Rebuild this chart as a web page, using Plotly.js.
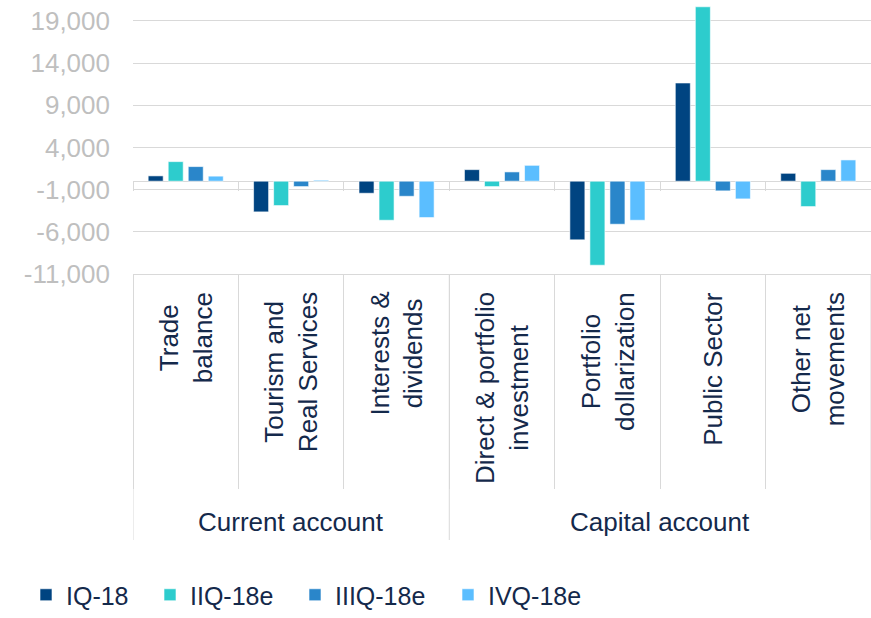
<!DOCTYPE html>
<html><head><meta charset="utf-8">
<script src="https://cdn.plot.ly/plotly-3.0.1.min.js"></script>
<style>html,body{margin:0;padding:0;background:#fff;}#chart{width:871px;height:618px;}</style>
</head><body><div id="chart"></div>
<script>
const groups = ["Current account","Current account","Current account","Capital account","Capital account","Capital account","Capital account"];
const categories = ["Trade<br>balance","Tourism and<br>Real Services","Interests &<br>dividends","Direct & portfolio<br>investment","Portfolio<br>dollarization","Public Sector","Other net<br>movements"];
const seriesNames = ["IQ-18","IIQ-18e","IIIQ-18e","IVQ-18e"];
const IQ18 = [630, -3640, -1430, 1370, -6950, 11640, 935];
const IIQ18e = [2320, -2890, -4630, -640, -9960, 20670, -3010];
const IIIQ18e = [1730, -640, -1790, 1100, -5100, -1150, 1370];
const IVQ18e = [600, 120, -4310, 1880, -4630, -2100, 2520];
const tickVals = [-11000, -6000, -1000, 4000, 9000, 14000, 19000];
const tickText = ["-11,000","-6,000","-1,000","4,000","9,000","14,000","19,000"];
const colors = ["#004481","#2DCCCD","#2A86CA","#5BBEFF"];
const values = [IQ18, IIQ18e, IIIQ18e, IVQ18e];

const TXT = '#14294b', GRID = '#d9d9d9';
const legendNames = ['legend','legend2','legend3','legend4'];
const legendX = [26, 150, 295, 448];

const traces = values.map((v,i)=>({
  type:'bar', name:seriesNames[i], x:categories, y:v, legend:legendNames[i],
  marker:{color:colors[i], line:{color:'rgba(255,255,255,0.6)', width:1}},
  hoverinfo:'skip'
}));
// helper trace so the zero-level category tick marks can be drawn
traces.push({type:'scatter', mode:'none', x:categories, y:categories.map(()=>null), xaxis:'x2', showlegend:false, hoverinfo:'skip'});

const annotations = [];
categories.forEach(c=>{
  annotations.push({xref:'x', yref:'paper', x:c, y:0, yshift:-16, text:c, textangle:-90,
    showarrow:false, xanchor:'center', yanchor:'top', align:'center', font:{size:26, color:TXT}});
});
// group labels and dividers derived from groups array
const shapes = [];
const uniq = [...new Set(groups)];
let start = 0;
shapes.push({type:'line', xref:'x', yref:'paper', x0:-0.5, x1:-0.5, y0:0, y1:-266/270, line:{color:GRID, width:1}});
uniq.forEach(g=>{
  const n = groups.filter(v=>v===g).length;
  const mid = start + (n-1)/2;
  annotations.push({xref:'x', yref:'paper', x:mid, y:0, yshift:-248, text:g, showarrow:false,
    xanchor:'center', yanchor:'middle', font:{size:26, color:TXT}});
  start += n;
  shapes.push({type:'line', xref:'x', yref:'paper', x0:start-0.5, x1:start-0.5, y0:0, y1:-266/270, line:{color:GRID, width:1}});
});

const legendBase = {orientation:'h', xref:'container', yref:'container', y:0, xanchor:'left', yanchor:'bottom',
          font:{size:25, color:TXT}, bgcolor:'rgba(0,0,0,0)'};
const layout = {
  width:871, height:618,
  margin:{l:133, r:0, t:4, b:344},
  paper_bgcolor:'#fff', plot_bgcolor:'#fff',
  font:{family:'Liberation Sans, Arial, sans-serif', color:TXT, size:26},
  barmode:'group', bargap:0.24, bargroupgap:0.25,
  showlegend:true,
  annotations, shapes,
  xaxis:{type:'category', showticklabels:false, ticks:'outside', tickson:'boundaries', ticklen:214, tickcolor:GRID,
         showline:true, linecolor:GRID, showgrid:false, range:[-0.5,6.5]},
  xaxis2:{overlaying:'x', anchor:'free', position:11000/32000, type:'category', range:[-0.5,6.5],
          showticklabels:false, ticks:'outside', ticklen:9, tickcolor:GRID, tickson:'boundaries',
          showline:false, showgrid:false, zeroline:false},
  yaxis:{range:[-11000,21000], tickvals:tickVals, ticktext:tickText, showgrid:true, gridcolor:GRID,
         zeroline:true, zerolinecolor:GRID, zerolinewidth:1, ticks:'', ticklabelstandoff:22,
         tickfont:{size:26, color:'#bfbfbf'}, showline:false}
};
legendNames.forEach((ln,i)=>{ layout[ln] = Object.assign({}, legendBase, {x:legendX[i]/871}); });
Plotly.newPlot('chart', traces, layout, {displayModeBar:false, staticPlot:true});
</script></body></html>
